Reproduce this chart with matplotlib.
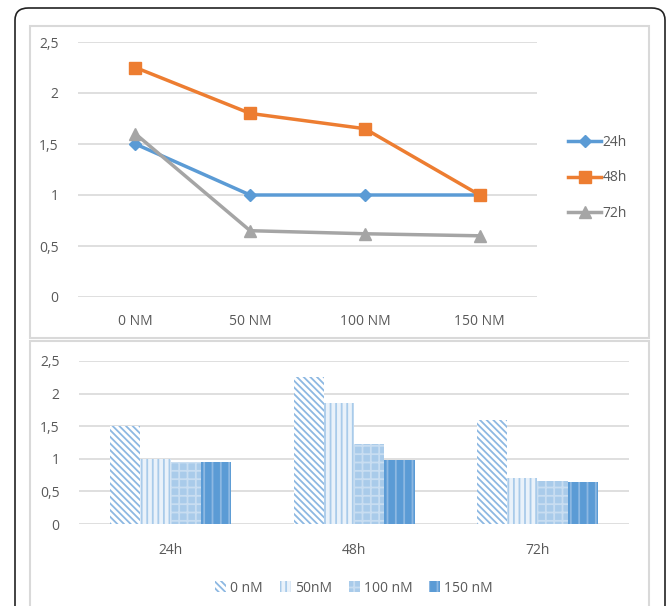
import numpy as np
import matplotlib.pyplot as plt
from matplotlib.patches import FancyBboxPatch, Rectangle

# data
doses = ['0 NM', '50 NM', '100 NM', '150 NM']
line_24h = [1.5, 1.0, 1.0, 1.0]
line_48h = [2.25, 1.8, 1.65, 1.0]
line_72h = [1.6, 0.65, 0.62, 0.6]

times = ['24h', '48h', '72h']
bar_labels = ['0 nM', '50nM', '100 nM', '150 nM']
bar_0 = [1.5, 2.25, 1.6]
bar_50 = [1.0, 1.85, 0.7]
bar_100 = [0.95, 1.23, 0.66]
bar_150 = [0.95, 0.98, 0.65]

yticks = [0, 0.5, 1, 1.5, 2, 2.5]
ylabels = ['0', '0,5', '1', '1,5', '2', '2,5']

W, H = 668, 606
plt.rcParams['font.family'] = ['Open Sans', 'DejaVu Sans']
plt.rcParams['hatch.linewidth'] = 1.3
fig = plt.figure(figsize=(W / 100, H / 100), dpi=100)

def box(x0, y0, x1, y1):
    # pixel coords (top-left origin) -> figure fraction
    return [x0 / W, 1 - y1 / H, (x1 - x0) / W, (y1 - y0) / H]

# outer rounded frame and inner panel boxes
fig.patches.append(FancyBboxPatch((15 / W, -0.05), 650 / W, 1 - 8 / H + 0.05,
                                  boxstyle='round,pad=0,rounding_size=0.02',
                                  transform=fig.transFigure, fill=False,
                                  edgecolor='#222222', linewidth=1.2))
for (x0, y0, x1, y1) in [(30, 26, 649, 338), (30, 341, 649, 620)]:
    fig.patches.append(Rectangle((x0 / W, 1 - y1 / H), (x1 - x0) / W, (y1 - y0) / H,
                                 transform=fig.transFigure, fill=False,
                                 edgecolor='#D9D9D9', linewidth=1.5))

tick_color = '#595959'
grid_color = '#D9D9D9'

def style(ax):
    ax.set_ylim(0, 2.5)
    ax.set_yticks(yticks)
    ax.set_yticklabels(ylabels)
    for s in ax.spines.values():
        s.set_visible(False)
    ax.tick_params(length=0, colors=tick_color, labelsize=10)
    ax.tick_params(axis='y', pad=14)
    ax.yaxis.grid(True, color=grid_color, linewidth=1.2)
    ax.set_axisbelow(True)

# top: line chart
ax1 = fig.add_axes(box(78, 42, 537, 297))
x = np.arange(len(doses))
ax1.plot(x, line_24h, color='#5B9BD5', lw=2.5, marker='D', ms=6, label='24h')
ax1.plot(x, line_48h, color='#ED7D31', lw=2.5, marker='s', ms=9, label='48h')
ax1.plot(x, line_72h, color='#A5A5A5', lw=2.5, marker='^', ms=8, label='72h')
ax1.set_xlim(-0.5, len(doses) - 0.5)
ax1.set_xticks(x)
ax1.set_xticklabels(doses)
style(ax1)
ax1.tick_params(axis='x', pad=12)
ax1.legend(loc='center left', bbox_to_anchor=(1.04, 0.467), frameon=False,
           fontsize=10, labelcolor=tick_color, handlelength=2.4,
           handletextpad=0.1, labelspacing=1.45)

# bottom: bar chart
ax2 = fig.add_axes(box(79, 361, 629, 524))
xb = np.arange(len(times))
bw = 0.165
series = [bar_0, bar_50, bar_100, bar_150]
faces = ['white', '#EAF2FA', '#A9CBEA', '#5B9BD5']
hatch_cols = ['#8DB8E2', '#A9CBEA', '#C8DDF1', '#8DB8E2']
hatches = ['\\\\\\\\\\', '|||', '++', '||']
for i, vals in enumerate(series):
    ax2.bar(xb + (i - 1.5) * bw, vals, bw, color=faces[i], edgecolor=hatch_cols[i],
            hatch=hatches[i], linewidth=0, label=bar_labels[i])
ax2.set_xlim(-0.5, len(times) - 0.5)
ax2.set_xticks(xb)
ax2.set_xticklabels(times)
style(ax2)
ax2.tick_params(axis='x', pad=14)
ax2.legend(loc='upper center', bbox_to_anchor=(0.5, -0.27), ncol=4, frameon=False,
           fontsize=10, labelcolor=tick_color, handlelength=0.8, handleheight=0.8,
           handletextpad=0.3, columnspacing=1.2)

fig.savefig('out.png', dpi=100)
